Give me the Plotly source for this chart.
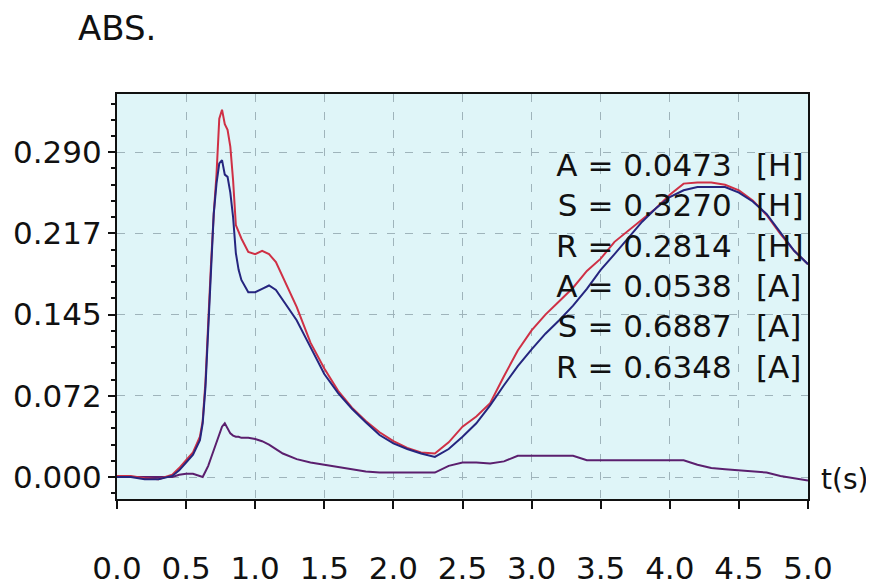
import plotly.graph_objects as go

# ---- data ----
t = [0.0, 0.1, 0.2, 0.3, 0.4, 0.45, 0.5, 0.55, 0.6, 0.62, 0.64, 0.66, 0.68, 0.70,
     0.72, 0.74, 0.76, 0.78, 0.80, 0.82, 0.84, 0.86, 0.88, 0.90, 0.95, 1.0, 1.05,
     1.1, 1.15, 1.2, 1.3, 1.4, 1.5, 1.6, 1.7, 1.8, 1.9, 2.0, 2.1, 2.2, 2.3, 2.4,
     2.5, 2.6, 2.7, 2.8, 2.9, 3.0, 3.1, 3.2, 3.3, 3.4, 3.5, 3.6, 3.7, 3.8, 3.9,
     4.0, 4.1, 4.2, 4.3, 4.4, 4.5, 4.6, 4.7, 4.8, 4.9, 5.0]

S_vals = [0.001, 0.001, -0.001, -0.002, 0.002, 0.008, 0.015, 0.022, 0.036, 0.050,
          0.085, 0.140, 0.190, 0.235, 0.270, 0.320, 0.328, 0.315, 0.310, 0.295,
          0.265, 0.225, 0.218, 0.213, 0.201, 0.199, 0.202, 0.199, 0.192, 0.179,
          0.152, 0.120, 0.097, 0.077, 0.062, 0.050, 0.040, 0.032, 0.026, 0.022,
          0.021, 0.031, 0.045, 0.054, 0.066, 0.090, 0.113, 0.131, 0.145, 0.157,
          0.169, 0.184, 0.195, 0.210, 0.220, 0.230, 0.240, 0.252, 0.262, 0.263,
          0.263, 0.261, 0.256, 0.247, 0.234, 0.217, 0.202, 0.190]

R_vals = [0.000, 0.000, -0.002, -0.002, 0.001, 0.006, 0.013, 0.020, 0.033, 0.048,
          0.080, 0.135, 0.190, 0.235, 0.262, 0.280, 0.283, 0.270, 0.268, 0.254,
          0.232, 0.200, 0.185, 0.176, 0.165, 0.165, 0.168, 0.171, 0.167, 0.158,
          0.140, 0.116, 0.092, 0.075, 0.061, 0.049, 0.0375, 0.030, 0.025, 0.021,
          0.018, 0.025, 0.036, 0.048, 0.064, 0.082, 0.099, 0.114, 0.128, 0.140,
          0.153, 0.168, 0.185, 0.199, 0.214, 0.228, 0.240, 0.250, 0.256, 0.259,
          0.259, 0.259, 0.254, 0.246, 0.235, 0.218, 0.202, 0.190]

A_vals = [0.000, 0.000, 0.000, 0.000, 0.000, 0.002, 0.003, 0.003, 0.001, 0.000,
          0.005, 0.010, 0.017, 0.024, 0.032, 0.040, 0.045, 0.048, 0.043, 0.039,
          0.037, 0.036, 0.036, 0.035, 0.035, 0.034, 0.032, 0.029, 0.025, 0.021,
          0.016, 0.013, 0.011, 0.009, 0.007, 0.005, 0.004, 0.004, 0.004, 0.004,
          0.004, 0.010, 0.013, 0.013, 0.012, 0.014, 0.019, 0.019, 0.019, 0.019,
          0.019, 0.015, 0.015, 0.015, 0.015, 0.015, 0.015, 0.015, 0.015, 0.011,
          0.008, 0.007, 0.006, 0.005, 0.004, 0.001, -0.001, -0.003]

y_tickvals = [0.0, 0.0725, 0.145, 0.2175, 0.29]
y_ticktext = ["0.000", "0.072", "0.145", "0.217", "0.290"]
x_tickvals = [0.0, 0.5, 1.0, 1.5, 2.0, 2.5, 3.0, 3.5, 4.0, 4.5, 5.0]
x_ticktext = ["0.0", "0.5", "1.0", "1.5", "2.0", "2.5", "3.0", "3.5", "4.0", "4.5", "5.0"]

stat_names = ["A", "S", "R", "A", "S", "R"]
stat_values = ["0.0473", "0.3270", "0.2814", "0.0538", "0.6887", "0.6348"]
stat_units = ["[H]", "[H]", "[H]", "[A]", "[A]", "[A]"]

FONT = "DejaVu Sans"
FS = 31

# plot area in page pixels (page body has an 8px margin)
PL, PR, PT, PB = 117, 808, 94, 499
PW, PH = PR - PL, PB - PT

fig = go.Figure()
fig.add_trace(go.Scatter(x=t, y=A_vals, mode="lines", name="A",
                         line=dict(color="#5b1f6e", width=2)))
fig.add_trace(go.Scatter(x=t, y=S_vals, mode="lines", name="S",
                         line=dict(color="#cf3045", width=2)))
fig.add_trace(go.Scatter(x=t, y=R_vals, mode="lines", name="R",
                         line=dict(color="#25257f", width=2)))

left_text = "<br>".join(f"{n} = {v}" for n, v in zip(stat_names, stat_values))
right_text = "<br>".join(stat_units)

fig.add_annotation(xref="paper", yref="paper", x=(734 - PL) / PW, y=(PB - 145) / PH,
                   xanchor="right", yanchor="top", align="right", showarrow=False,
                   text=left_text, font=dict(family=FONT, size=FS, color="#111111"))
fig.add_annotation(xref="paper", yref="paper", x=(754 - PL) / PW, y=(PB - 145) / PH,
                   xanchor="left", yanchor="top", align="left", showarrow=False,
                   text=right_text, font=dict(family=FONT, size=FS, color="#111111"))
fig.add_annotation(xref="paper", yref="paper", x=(76 - PL) / PW, y=(PB - 28) / PH,
                   xanchor="left", yanchor="middle", showarrow=False,
                   text="ABS.", font=dict(family=FONT, size=34, color="#111111"))
fig.add_annotation(xref="paper", yref="paper", x=(819 - PL) / PW, y=(PB - 479) / PH,
                   xanchor="left", yanchor="middle", showarrow=False,
                   text="t(s)", font=dict(family=FONT, size=28, color="#111111"))

fig.update_layout(
    width=874, height=587, autosize=False,
    margin=dict(l=PL - 8, r=874 - (PR - 8), t=PT - 8, b=587 - (PB - 8), autoexpand=False),
    paper_bgcolor="white", plot_bgcolor="#dff5f8",
    showlegend=False,
    font=dict(family=FONT, size=FS, color="#111111"),
)
fig.update_xaxes(
    range=[0, 5], tickvals=x_tickvals, ticktext=x_ticktext, automargin=False,
    ticks="outside", ticklen=8, tickwidth=2, tickcolor="#111111",
    ticklabelstandoff=33,
    showline=True, linecolor="#111111", linewidth=2, mirror=True,
    showgrid=True, gridcolor="#9fb4bb", gridwidth=1, griddash="8px,10px",
    zeroline=False, tickfont=dict(family=FONT, size=FS, color="#111111"),
)
fig.update_yaxes(
    range=[-0.0196, 0.342], tickvals=y_tickvals, ticktext=y_ticktext, automargin=False,
    ticks="outside", ticklen=7, tickwidth=2, tickcolor="#111111",
    minor=dict(dtick=0.0145, tick0=0, ticks="outside", ticklen=4, tickwidth=2,
               tickcolor="#111111", showgrid=False),
    showline=True, linecolor="#111111", linewidth=2, mirror=True,
    showgrid=True, gridcolor="#9fb4bb", gridwidth=1, griddash="8px,10px",
    zeroline=False, tickfont=dict(family=FONT, size=FS, color="#111111"),
)

fig.write_html("out.html")
